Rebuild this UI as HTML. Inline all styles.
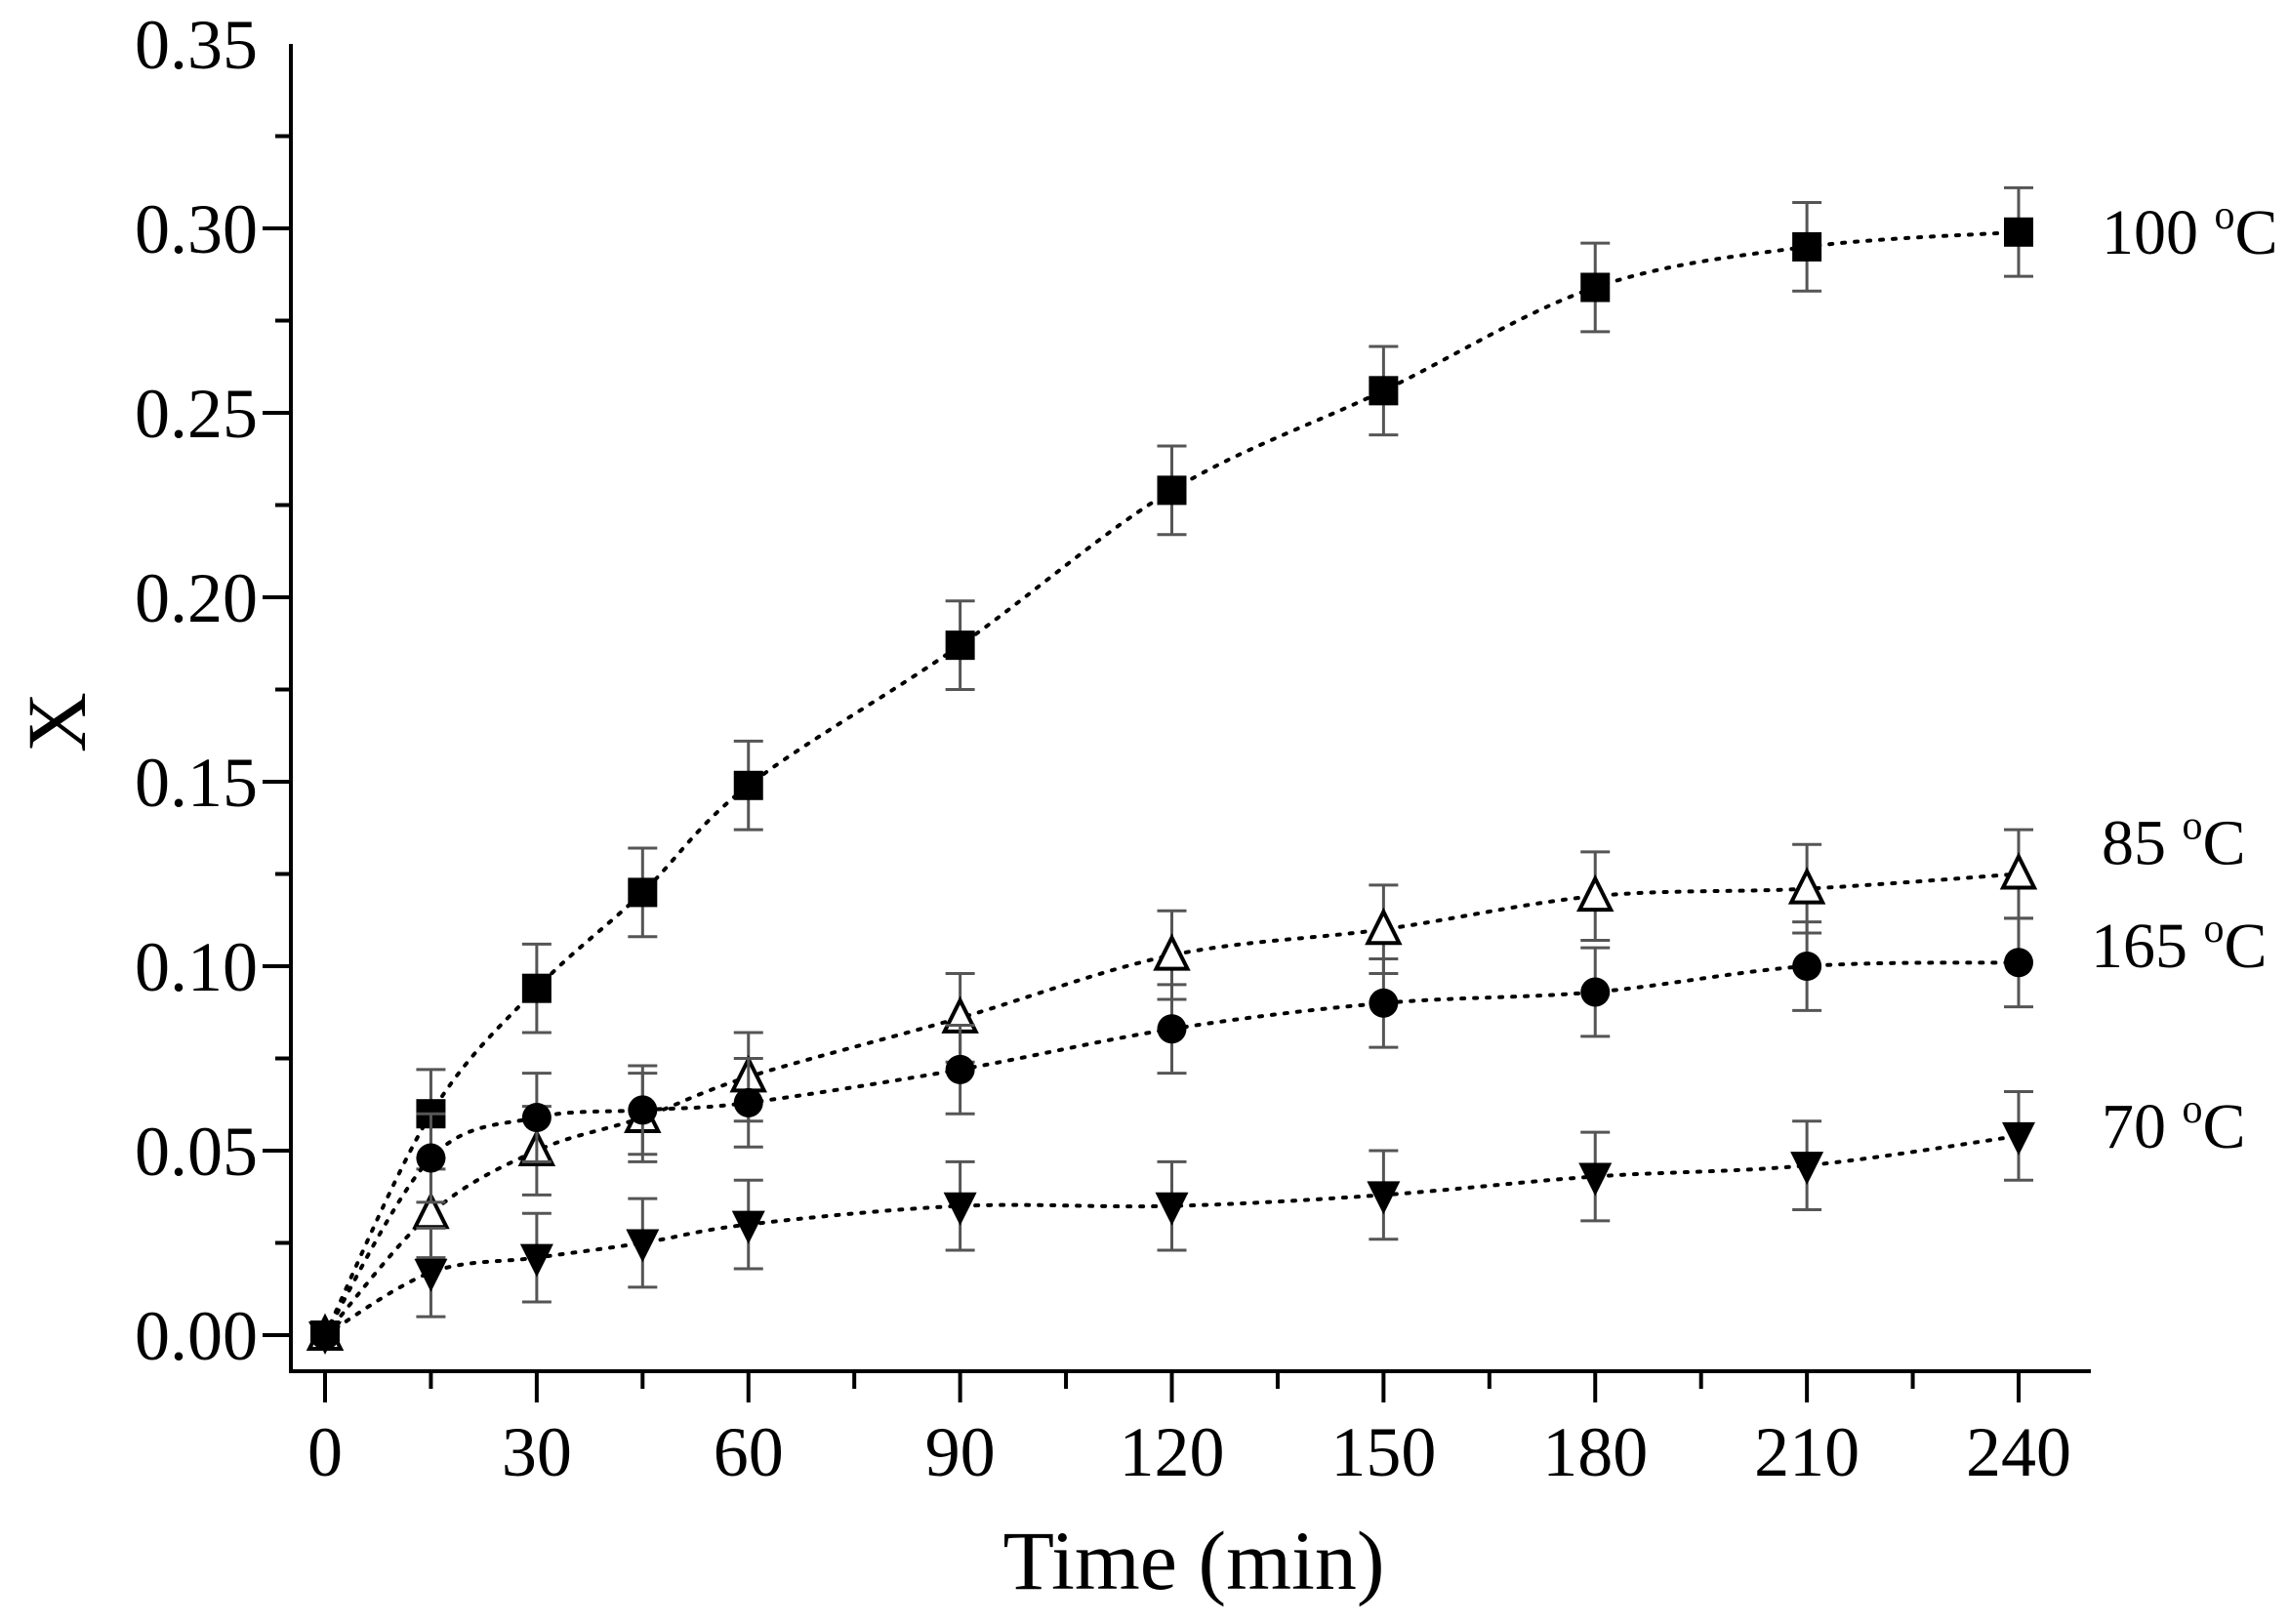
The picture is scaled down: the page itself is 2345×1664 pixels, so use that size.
<!DOCTYPE html>
<html><head><meta charset="utf-8"><style>
body{margin:0;background:#fff}
svg text{font-family:"Liberation Serif",serif;fill:#000}
</style></head><body>
<svg id="chart" width="2345" height="1659" viewBox="0 0 2345 1659" xmlns="http://www.w3.org/2000/svg">
<g id="axes"></g>
<g id="series"></g>
<text x="1223" y="1628" font-size="86" text-anchor="middle">Time (min)</text>
<text x="62" y="765" font-size="86" text-anchor="middle" transform="rotate(-90 62 740)">X</text>
</svg>
<script>
const times=[0,15,30,45,60,90,120,150,180,210,240];
const s100=[0,0.060,0.094,0.120,0.149,0.187,0.229,0.256,0.284,0.295,0.299];
const s85=[0,0.033,0.050,0.059,0.070,0.086,0.103,0.110,0.119,0.121,0.125];
const s165=[0,0.048,0.059,0.061,0.063,0.072,0.083,0.090,0.093,0.100,0.101];
const s70=[0,0.017,0.021,0.025,0.030,0.035,0.035,0.038,0.043,0.046,0.054];
const errs=[0.012,0.012,0.012,0.012,0.012,0.012,0.012,0.012,0.012,0.012,0.012];
const xTicks=[0,30,60,90,120,150,180,210,240];
const yTicks=[0,0.05,0.10,0.15,0.20,0.25,0.30,0.35];
const labels=["100 \u00B0C","85 \u00B0C","165 \u00B0C","70 \u00B0C"];

const NS="http://www.w3.org/2000/svg";
const X=t=>333+(2068-333)*t/240;
const Y=v=>1368-(1368-45)*v/0.35;
const AX=1405;
function mk(tag,at,parent){const e=document.createElementNS(NS,tag);for(const k in at)e.setAttribute(k,at[k]);parent.appendChild(e);return e;}
const axes=document.getElementById('axes'),ser=document.getElementById('series');
const l1=mk('line',{x1:298,y1:45,x2:298,y2:AX,stroke:'#000','stroke-width':4},axes);


const l2=mk('line',{x1:296,y1:AX,x2:2142,y2:AX,stroke:'#000','stroke-width':4},axes);


for(let t=0;t<=240;t+=15){const maj=t%30===0;mk('line',{x1:X(t),y1:AX,x2:X(t),y2:maj?AX+32:AX+18,stroke:'#000','stroke-width':4},axes);}
xTicks.forEach(t=>{const e=mk('text',{x:X(t),y:1512,'font-size':72,'text-anchor':'middle'},axes);e.textContent=t;

});
for(let i=0;i<14;i++){const v=i*0.025;const maj=i%2===0;mk('line',{x1:maj?269:282,y1:Y(v),x2:298,y2:Y(v),stroke:'#000','stroke-width':4},axes);}
yTicks.forEach(v=>{const e=mk('text',{x:264,y:Y(v)+25,'font-size':72,'text-anchor':'end'},axes);e.textContent=v.toFixed(2);

});

function spline(vals){const p=times.map((t,i)=>[X(t),Y(vals[i])]);let d=`M${p[0][0]},${p[0][1]}`;
for(let i=0;i<p.length-1;i++){const p0=p[Math.max(0,i-1)],p1=p[i],p2=p[i+1],p3=p[Math.min(p.length-1,i+2)];
d+=` C${p1[0]+(p2[0]-p0[0])/6},${p1[1]+(p2[1]-p0[1])/6} ${p2[0]-(p3[0]-p1[0])/6},${p2[1]-(p3[1]-p1[1])/6} ${p2[0]},${p2[1]}`;}return d;}
function marker(kind,x,y,g){const r=15;
if(kind==='sq')return mk('rect',{x:x-r,y:y-r,width:2*r,height:2*r,fill:'#000'},g);
if(kind==='ci')return mk('circle',{cx:x,cy:y,r:r,fill:'#000'},g);
if(kind==='tu')return mk('polygon',{points:`${x},${y-r-3} ${x-r-1},${y+r-1} ${x+r+1},${y+r-1}`,fill:'#fff',stroke:'#000','stroke-width':4},g);
return mk('polygon',{points:`${x-r-2},${y-r+1} ${x+r+2},${y-r+1} ${x},${y+r+5}`,fill:'#000'},g);}
const all=[[s100,'sq','series-100c'],[s85,'tu','series-85c'],[s165,'ci','series-165c'],[s70,'td','series-70c']];
const labPos=[[2153,Y(s100[10])+22],[2153,Y(s85[10])-10],[2142,Y(s165[10])+5],[2153,Y(s70[10])+12]];
all.forEach(([vals,kind,name],si)=>{
 const g=mk('g',{},ser);
 
 
 mk('path',{d:spline(vals),fill:'none',stroke:'#000','stroke-width':4,'stroke-dasharray':'3 10','stroke-linecap':'round'},g);
 times.forEach((t,i)=>{const x=X(t);
  if(i>0){const y1=Y(vals[i]+errs[i]),y2=Y(vals[i]-errs[i]);
   const eb=mk('path',{d:`M${x},${y1}V${y2}M${x-15},${y1}H${x+15}M${x-15},${y2}H${x+15}`,stroke:'#555','stroke-width':3,fill:'none'},g);
   
   }
  const m=marker(kind,x,Y(vals[i]),g);
  
  });
 const lt=mk('text',{x:labPos[si][0],y:labPos[si][1],'font-size':66},ser);
 
 
 const parts=labels[si].split(' \u00B0');
 lt.textContent=parts[0]+' ';
 const o=mk('tspan',{dy:-26,'font-size':42},lt);o.textContent='o';
 const c=mk('tspan',{dy:26},lt);c.textContent=parts[1];
});
</script>
</body></html>
